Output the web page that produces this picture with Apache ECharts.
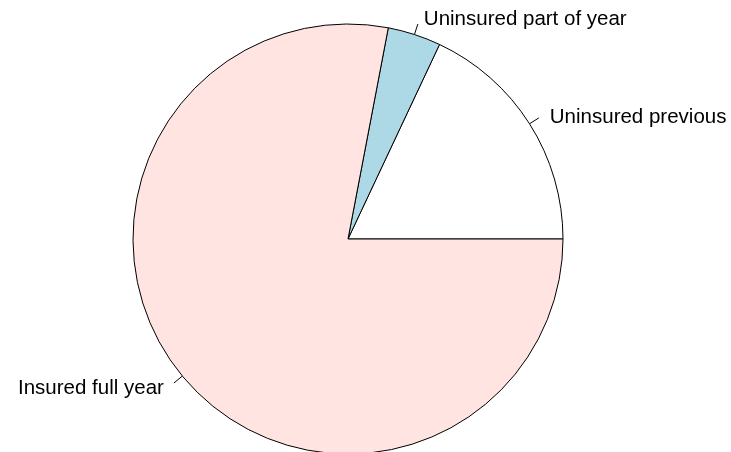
<!DOCTYPE html>
<html lang="en">
<head>
    <meta charset="UTF-8">
    <title>Insurance status</title>
    <script src="https://cdn.jsdelivr.net/npm/echarts@6/dist/echarts.min.js"></script>
    <style>
        html, body { margin: 0; padding: 0; background: #fff; }
        #main { width: 731px; height: 452px; }
    </style>
</head>
<body>
    <div id="main"></div>
    <script>
        // slices, counterclockwise from 3 o'clock (like R's pie())
        var labels = ['Uninsured previous', 'Uninsured part of year', 'Insured full year'];
        var values = [18.0, 4.0, 78.0];
        var colors = ['#ffffff', '#add8e6', '#ffe4e1'];

        var myChart = echarts.init(document.getElementById('main'));

        var pieData = [];
        for (var i = 0; i < labels.length; i++) {
            pieData.push({
                name: labels[i],
                value: values[i],
                itemStyle: { color: colors[i] }
            });
        }

        // small nudges so text sits a bit past the tick, as R does
        var labelNudge = [[0, -1], [-5, -5], [1, 5]];

        var option = {
            animation: false,
            series: [{
                type: 'pie',
                center: [348, 239],
                radius: 215,
                startAngle: 0,
                clockwise: false,
                avoidLabelOverlap: false,
                silent: true,
                itemStyle: {
                    borderColor: '#000',
                    borderWidth: 1
                },
                label: {
                    show: true,
                    position: 'outside',
                    formatter: '{b}',
                    color: '#000',
                    fontFamily: 'Liberation Sans',
                    fontSize: 20.5,
                    distanceToLabelLine: 11
                },
                labelLine: {
                    show: true,
                    length: 11,
                    length2: 0,
                    smooth: false,
                    lineStyle: { color: '#000', width: 1 }
                },
                labelLayout: function (params) {
                    var n = labelNudge[params.dataIndex];
                    return { dx: n[0], dy: n[1] };
                },
                data: pieData
            }]
        };

        myChart.setOption(option);
    </script>
</body>
</html>
